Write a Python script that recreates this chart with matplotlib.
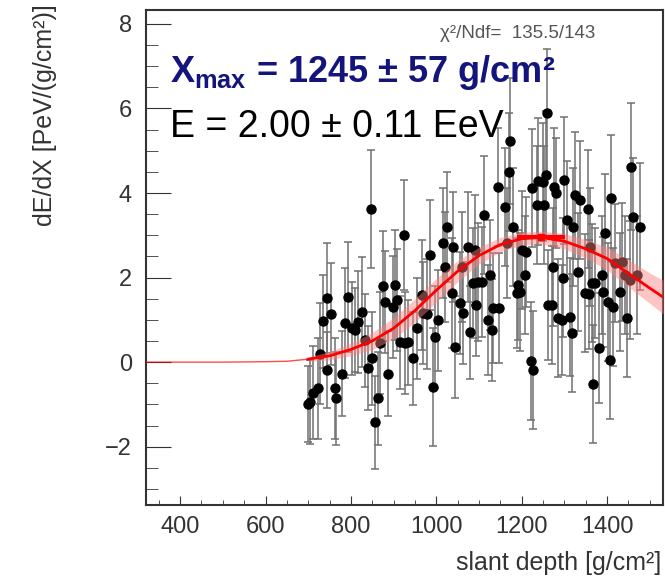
import numpy as np
import matplotlib.pyplot as plt
from matplotlib.ticker import MultipleLocator

plt.rcParams['font.family'] = ['Liberation Sans', 'DejaVu Sans']
plt.rcParams['mathtext.fontset'] = 'custom'
plt.rcParams['mathtext.rm'] = 'Liberation Sans'
plt.rcParams['mathtext.bf'] = 'Liberation Sans:bold'

# measured profile (slant depth, dE/dX, error)
depth = [700, 704, 711, 723, 728, 735, 744, 744, 754, 763, 765, 779, 786, 793, 803,
         810, 817, 826, 833, 840, 847, 850, 857, 864, 868, 875, 880, 887, 899, 903,
         908, 915, 925, 927, 934, 946, 955, 967, 969, 978, 985, 993, 997, 1005, 1016,
         1021, 1025, 1037, 1040, 1044, 1056, 1060, 1063, 1074, 1079, 1086, 1091, 1093, 1098, 1107,
         1112, 1121, 1126, 1130, 1133, 1145, 1147, 1161, 1166, 1170, 1173, 1180, 1189, 1192, 1196,
         1201, 1208, 1210, 1222, 1224, 1227, 1236, 1238, 1250, 1252, 1257, 1259, 1262, 1271, 1274,
         1276, 1281, 1285, 1295, 1297, 1299, 1306, 1313, 1318, 1320, 1325, 1332, 1337, 1349, 1356,
         1358, 1360, 1365, 1367, 1372, 1381, 1388, 1390, 1395, 1402, 1407, 1409, 1414, 1419, 1430,
         1435, 1442, 1447, 1454, 1456, 1461, 1470, 1477]
dedx = [-1.0, -0.94, -0.73, -0.62, 0.2, 0.97, 1.52, -0.19, 1.14, -0.62, -0.85, -0.27, 0.92, 1.54, 0.8,
        0.76, 0.95, 1.18, 0.52, -0.14, 3.62, 0.09, -1.42, -0.85, 0.45, 1.8, 1.42, -0.27, 1.3, 1.82,
        1.47, 0.47, 3.0, 0.45, 0.47, 0.09, 0.8, 1.58, 1.16, 1.14, 2.53, -0.59, 0.59, 0.99, 2.82,
        2.25, 3.2, 1.63, 2.72, 0.36, 1.4, 2.25, 1.16, 2.72, 0.71, 1.87, 2.65, 1.35, 1.9, 1.9,
        3.48, 0.99, 2.06, 0.76, 1.28, 4.14, 1.28, 3.67, 2.82, 4.5, 5.23, 3.2, 1.63, 1.82, 1.66,
        2.65, 2.06, 2.6, 0.02, 4.12, -0.19, 3.72, 4.28, 4.26, 3.72, 4.43, 5.9, 1.35, 1.35, 2.25,
        4.14, 4.0, 1.04, 1.0, 2.0, 4.3, 3.36, 1.06, 0.69, 3.2, 3.95, 2.13, 3.83, 1.63, 3.62,
        1.6, 2.72, 1.87, -0.52, 1.87, 0.33, 2.06, 1.66, 3.05, 1.42, 0.05, 3.88, 1.3, 2.34, 1.66,
        2.37, 2.06, 1.04, 1.94, 4.62, 3.43, 2.06, 3.2]
dedx_err = [0.9, 1.0, 1.1, 1.2, 1.2, 1.1, 1.3, 0.9, 1.2, 1.2, 1.1, 1.0, 1.3, 1.3, 1.1,
            1.0, 1.2, 1.3, 1.1, 1.0, 1.4, 1.1, 1.1, 1.1, 1.2, 1.3, 1.2, 1.0, 1.2, 1.3,
            1.2, 1.1, 1.3, 1.2, 1.0, 1.1, 1.2, 1.3, 1.2, 1.3, 1.3, 1.4, 1.2, 1.2, 1.3,
            1.3, 1.3, 1.3, 1.3, 1.2, 1.2, 1.3, 1.2, 1.3, 1.1, 1.3, 1.3, 1.2, 1.4, 1.3,
            1.4, 1.3, 1.3, 1.2, 1.3, 1.4, 1.3, 1.4, 1.3, 1.4, 1.5, 1.4, 1.3, 1.3, 1.4,
            1.4, 1.4, 1.3, 1.4, 1.4, 1.4, 1.4, 1.5, 1.4, 1.4, 1.5, 1.5, 1.3, 1.4, 1.4,
            1.4, 1.3, 1.4, 1.3, 1.4, 1.5, 1.4, 1.4, 1.4, 1.4, 1.5, 1.4, 1.4, 1.4, 1.4,
            1.3, 1.4, 1.4, 1.4, 1.3, 1.3, 1.4, 1.3, 1.4, 1.4, 1.4, 1.5, 1.4, 1.4, 1.4,
            1.4, 1.4, 1.4, 1.4, 1.5, 1.4, 1.4, 1.5]

# fitted Gaisser-Hillas profile
fit_x = [320, 400, 500, 600, 650, 700, 750, 800, 850, 900, 950, 1000, 1050, 1100,
         1150, 1200, 1245, 1300, 1350, 1400, 1450, 1500, 1531]
fit_y = [0, 0, 0, 0.01, 0.02, 0.07, 0.15, 0.3, 0.5, 0.8, 1.22, 1.7, 2.15, 2.52,
         2.78, 2.92, 2.95, 2.86, 2.68, 2.45, 2.1, 1.75, 1.54]
fit_band = [0, 0, 0, 0, 0.02, 0.05, 0.1, 0.15, 0.2, 0.25, 0.28, 0.28, 0.25, 0.2,
            0.17, 0.15, 0.15, 0.18, 0.22, 0.27, 0.32, 0.36, 0.4]
xmax, xmax_err, ymax = 1245, 57, 2.95

fig = plt.figure(figsize=(6.65, 5.87), dpi=100)
ax = fig.add_axes([146/665, 82/587, 517/665, 495/587])

ax.errorbar(depth, dedx, yerr=dedx_err, fmt='o', color='black', ms=6.5,
            ecolor='#707070', elinewidth=1.1, capsize=3, capthick=1.1, zorder=2)

fx = np.array(fit_x)
fy = np.array(fit_y)
fb = np.array(fit_band)
m = fx >= 700
ax.fill_between(fx[m], (fy - fb)[m], (fy + fb)[m], color='#ff8080', alpha=0.45,
                lw=0, zorder=3)
ax.plot(fx, fy, color='red', lw=1, alpha=0.7, zorder=4)
ax.plot(fx[m], fy[m], color='red', lw=2, zorder=4)
ax.errorbar([xmax], [ymax], xerr=[xmax_err], fmt='s', color='red', ms=5,
            elinewidth=3, capsize=0, zorder=5)

ax.set_xlim(320, 1531)
ax.set_ylim(-3.38, 8.33)
ax.xaxis.set_major_locator(MultipleLocator(200))
ax.xaxis.set_minor_locator(MultipleLocator(50))
ax.yaxis.set_major_locator(MultipleLocator(2))
ax.yaxis.set_minor_locator(MultipleLocator(0.5))
ax.tick_params(axis='both', which='both', direction='in', colors='#333333',
               labelsize=17, top=False, right=False)
ax.tick_params(axis='y', which='major', length=18, pad=10)
ax.tick_params(axis='y', which='minor', length=8.5)
ax.tick_params(axis='x', which='major', length=6.5, pad=8)
ax.tick_params(axis='x', which='minor', length=3.5)
for s in ax.spines.values():
    s.set_color('#333333')
    s.set_linewidth(1.5)

fig.text(45/665, 1 - 4/587, 'dE/dX [PeV/(g/cm²)]', rotation=90, ha='center',
         va='top', fontsize=18, color='#333333')
fig.text(661/665, 1 - 563/587, 'slant depth [g/cm²]', ha='right', va='center',
         fontsize=18, color='#333333')

fig.text(440/665, 1 - 33/587, 'χ²/Ndf=  135.5/143', ha='left', va='center',
         fontsize=13.5, color='#555555')
fig.text(170/665, 1 - 82/587, r'$\mathbf{X}_{\mathbf{max}}$ = 1245 ± 57 g/cm²',
         ha='left', va='baseline', fontsize=26, fontweight='bold', color='#14147d')
fig.text(170/665, 1 - 137/587, 'E = 2.00 ± 0.11 EeV', ha='left', va='baseline',
         fontsize=27, color='black')

fig.savefig('out.png', dpi=100)
